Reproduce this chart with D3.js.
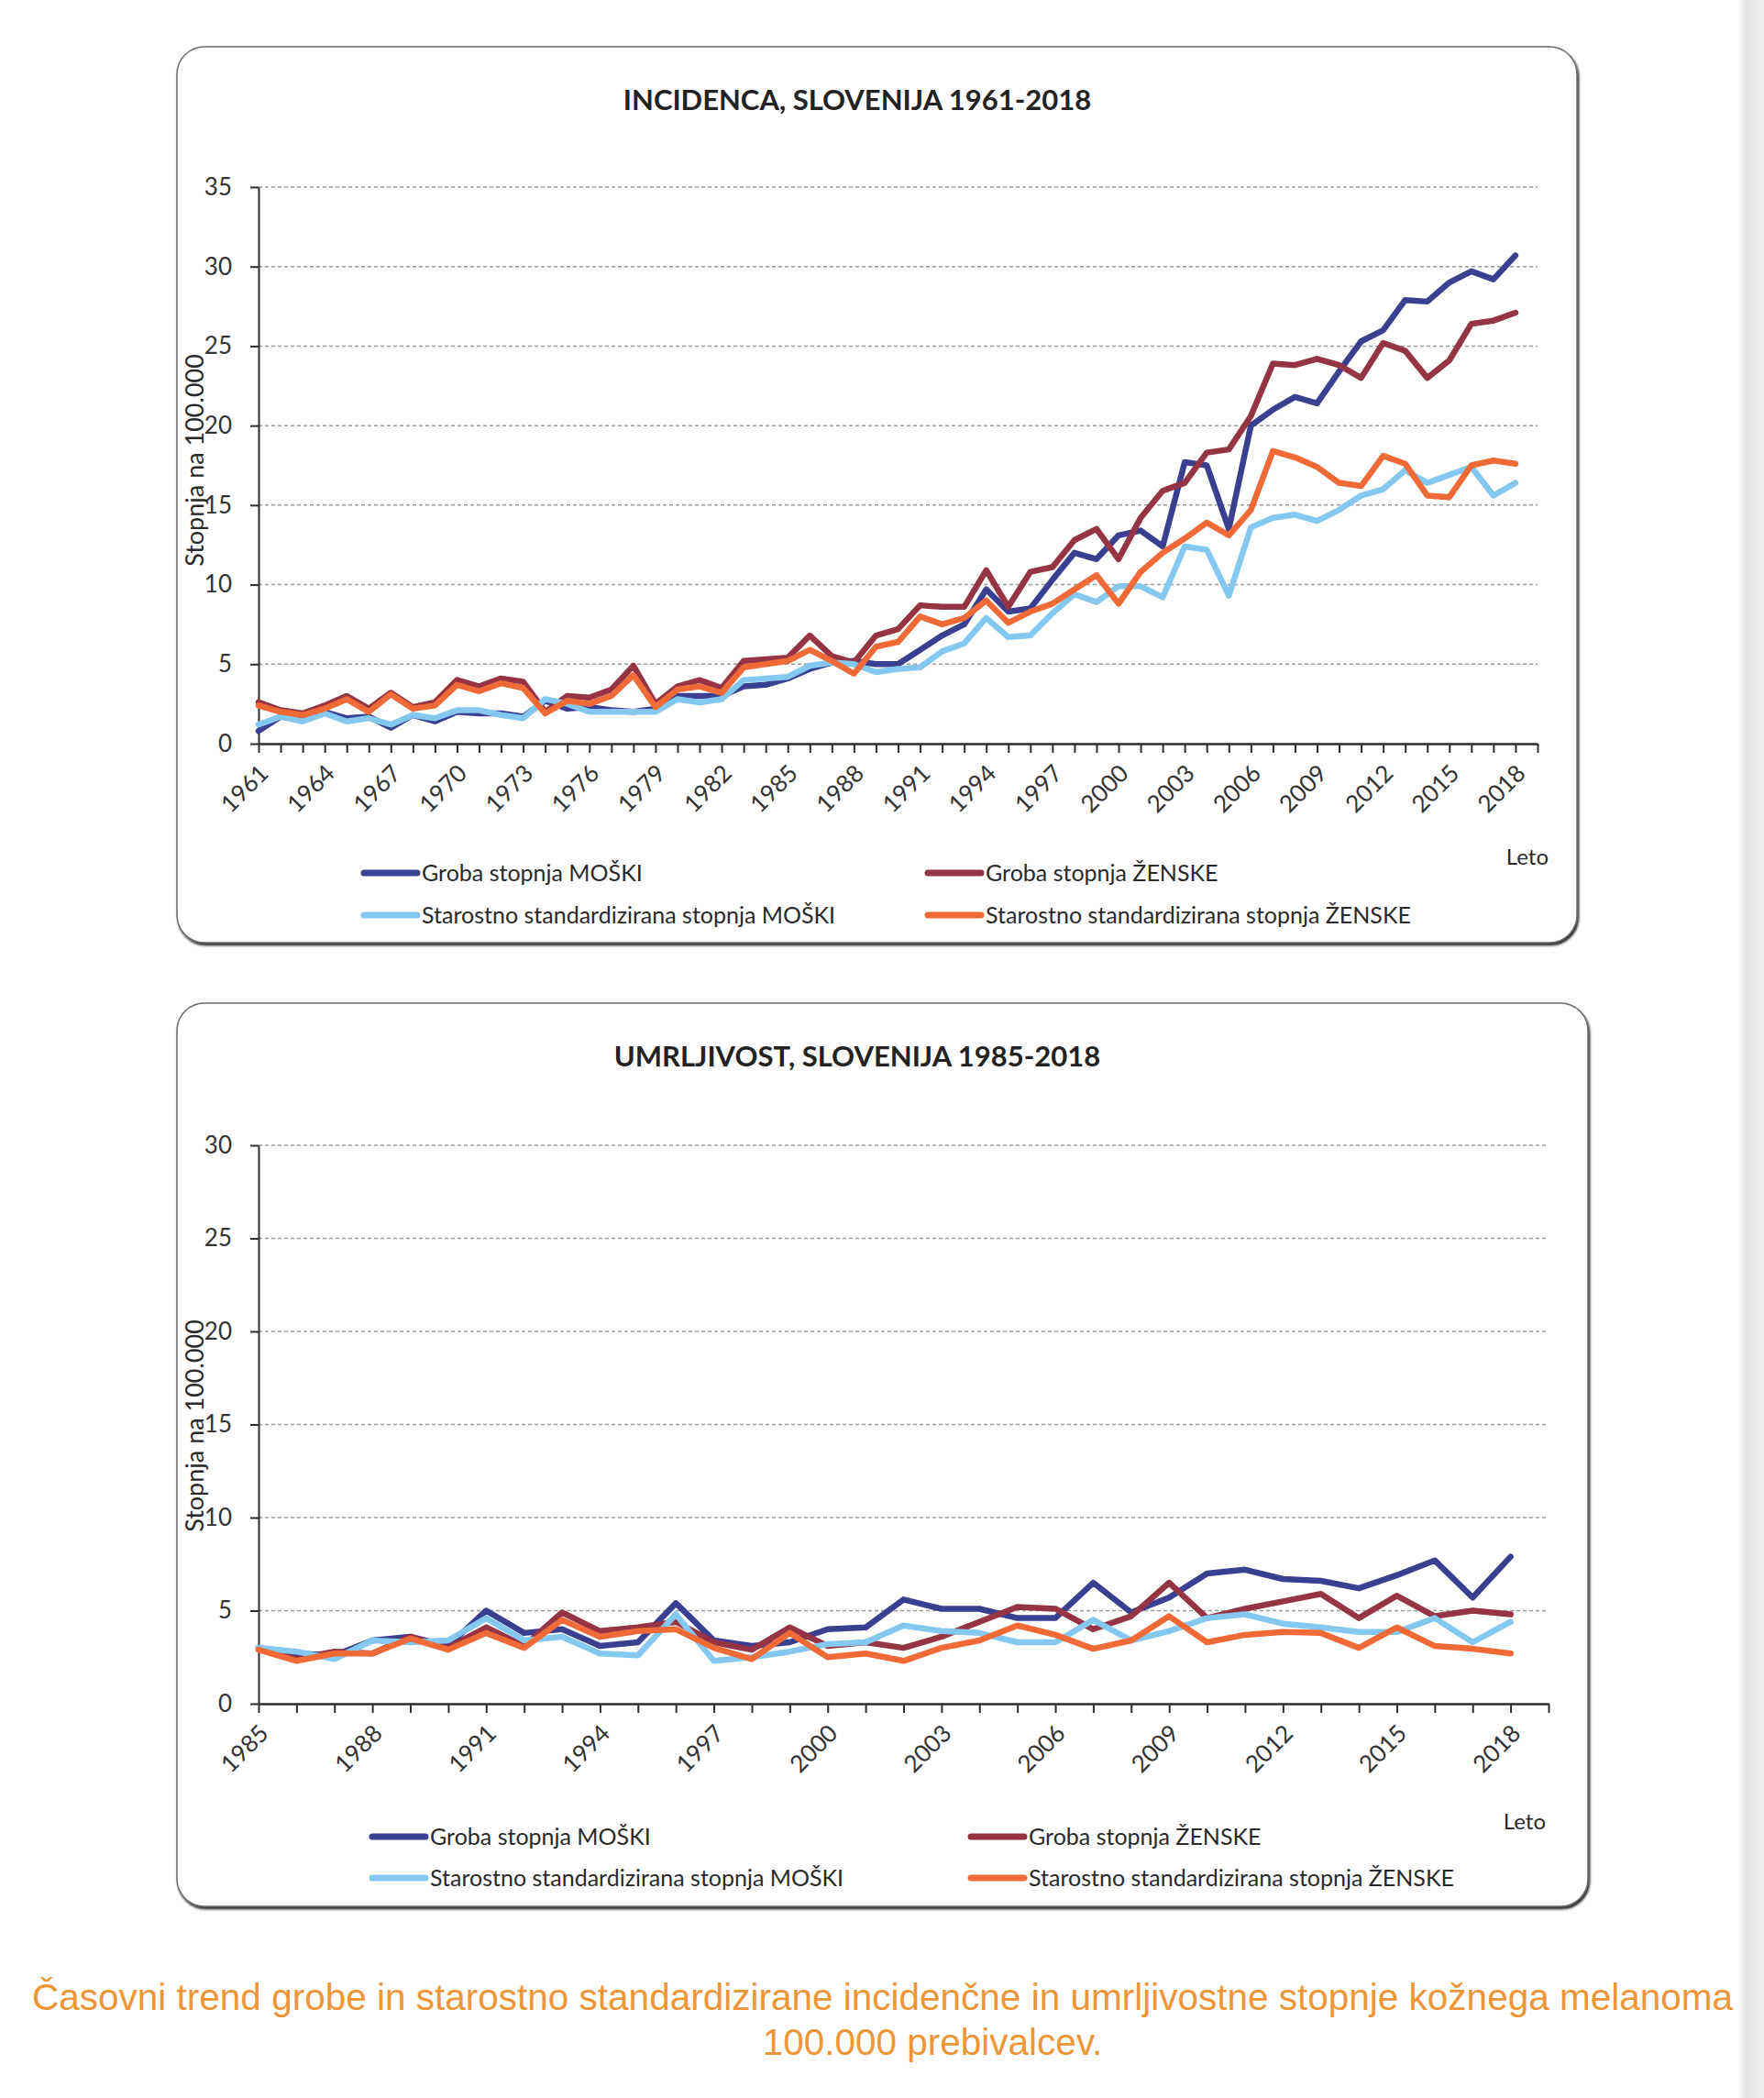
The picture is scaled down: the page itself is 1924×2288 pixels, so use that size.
<!DOCTYPE html>
<html>
<head>
<meta charset="utf-8">
<script src="https://cdn.jsdelivr.net/npm/d3@7"></script>
<style>
  body { margin: 0; background: #fff; }
  svg { display: block; }
</style>
</head>
<body>
<div id="vis"></div>
<script>

/* Incidence, 1961-2018 (rate per 100.000) */
var incYears = d3.range(1961, 2019);
var incXLabels = [1961, 1964, 1967, 1970, 1973, 1976, 1979, 1982, 1985, 1988, 1991,
                  1994, 1997, 2000, 2003, 2006, 2009, 2012, 2015, 2018];
var incYTicks = [0, 5, 10, 15, 20, 25, 30, 35];

var incMenCrude = [
  0.8, 1.7, 1.5, 2.0, 1.6, 1.7, 1.0, 1.8, 1.4, 2.0,
  1.9, 1.9, 1.7, 2.7, 2.2, 2.3, 2.1, 2.0, 2.2, 3.0,
  3.0, 3.0, 3.6, 3.7, 4.1, 4.7, 5.1, 5.2, 5.0, 5.0,
  5.9, 6.8, 7.5, 9.7, 8.3, 8.5, 10.3, 12.0, 11.6, 13.1,
  13.4, 12.4, 17.7, 17.5, 13.5, 20.0, 21.0, 21.8, 21.4, 23.4,
  25.3, 26.0, 27.9, 27.8, 29.0, 29.7, 29.2, 30.7
];
var incWomenCrude = [
  2.6, 2.1, 1.9, 2.4, 3.0, 2.2, 3.2, 2.3, 2.6, 4.0,
  3.6, 4.1, 3.9, 2.0, 3.0, 2.9, 3.4, 4.9, 2.5, 3.6,
  4.0, 3.5, 5.2, 5.3, 5.4, 6.8, 5.5, 5.1, 6.8, 7.2,
  8.7, 8.6, 8.6, 10.9, 8.6, 10.8, 11.1, 12.8, 13.5, 11.6,
  14.2, 15.9, 16.4, 18.3, 18.5, 20.6, 23.9, 23.8, 24.2, 23.8,
  23.0, 25.2, 24.7, 23.0, 24.1, 26.4, 26.6, 27.1
];
var incMenStd = [
  1.2, 1.7, 1.4, 1.9, 1.4, 1.6, 1.2, 1.8, 1.6, 2.1,
  2.1, 1.8, 1.6, 2.8, 2.5, 2.0, 2.0, 2.0, 2.0, 2.8,
  2.6, 2.8, 4.0, 4.1, 4.2, 4.9, 5.1, 5.0, 4.5, 4.7,
  4.8, 5.8, 6.3, 7.9, 6.7, 6.8, 8.2, 9.4, 8.9, 9.9,
  9.9, 9.2, 12.4, 12.2, 9.3, 13.6, 14.2, 14.4, 14.0, 14.7,
  15.6, 16.0, 17.2, 16.4, 16.9, 17.4, 15.6, 16.4
];
var incWomenStd = [
  2.4, 2.0, 1.8, 2.2, 2.8, 2.0, 3.1, 2.2, 2.4, 3.7,
  3.3, 3.8, 3.5, 1.9, 2.7, 2.5, 3.0, 4.3, 2.3, 3.4,
  3.6, 3.2, 4.8, 5.0, 5.2, 5.9, 5.2, 4.4, 6.1, 6.4,
  8.0, 7.5, 7.9, 9.0, 7.6, 8.3, 8.8, 9.7, 10.6, 8.8,
  10.8, 12.0, 12.9, 13.9, 13.1, 14.7, 18.4, 18.0, 17.4, 16.4,
  16.2, 18.1, 17.6, 15.6, 15.5, 17.5, 17.8, 17.6
];

/* Mortality, 1985-2018 (rate per 100.000) */
var mortYears = d3.range(1985, 2019);
var mortXLabels = [1985, 1988, 1991, 1994, 1997, 2000, 2003, 2006, 2009, 2012, 2015, 2018];
var mortYTicks = [0, 5, 10, 15, 20, 25, 30];

var mortMenCrude = [
  3.0, 2.7, 2.6, 3.4, 3.6, 3.1, 5.0, 3.8, 4.0, 3.1,
  3.3, 5.4, 3.4, 3.1, 3.3, 4.0, 4.1, 5.6, 5.1, 5.1,
  4.6, 4.6, 6.5, 4.9, 5.7, 7.0, 7.2, 6.7, 6.6, 6.2,
  6.9, 7.7, 5.7, 7.9
];
var mortWomenCrude = [
  3.0, 2.4, 2.8, 2.7, 3.6, 3.0, 4.1, 3.1, 4.9, 3.9,
  4.1, 4.4, 3.3, 2.9, 4.1, 3.1, 3.3, 3.0, 3.6, 4.4,
  5.2, 5.1, 4.0, 4.7, 6.5, 4.6, 5.1, 5.5, 5.9, 4.6,
  5.8, 4.7, 5.0, 4.8
];
var mortMenStd = [
  3.0, 2.8, 2.4, 3.4, 3.3, 3.4, 4.6, 3.4, 3.6, 2.7,
  2.6, 4.8, 2.3, 2.5, 2.8, 3.2, 3.3, 4.2, 3.9, 3.8,
  3.3, 3.3, 4.5, 3.4, 3.9, 4.6, 4.8, 4.3, 4.1, 3.85,
  3.85, 4.6, 3.3, 4.4
];
var mortWomenStd = [
  2.9, 2.3, 2.7, 2.7, 3.5, 2.9, 3.8, 3.0, 4.5, 3.6,
  3.9, 4.0, 3.0, 2.4, 3.8, 2.5, 2.7, 2.3, 3.0, 3.4,
  4.2, 3.7, 2.95, 3.4, 4.7, 3.3, 3.7, 3.85, 3.8, 3.0,
  4.1, 3.1, 2.95, 2.7
];

var seriesNames = ['Groba stopnja MOŠKI', 'Groba stopnja ŽENSKE',
                   'Starostno standardizirana stopnja MOŠKI', 'Starostno standardizirana stopnja ŽENSKE'];

var captionLines = ['Časovni trend grobe in starostno standardizirane incidenčne in umrljivostne stopnje kožnega melanoma',
                    '100.000 prebivalcev.'];

var prefs = {
  width: 1924,
  height: 2288,
  font: 'Lato, "Open Sans", sans-serif',
  colors: ['#3b3f8f', '#943444', '#84c8ef', '#ef6a37'],
  lineWidth: 6.5,
  axisColor: '#2e2e2e',
  gridColor: '#9c9c9c',
  textColor: '#2a2a2a',
  captionColor: '#ed9637'
};

var svg = d3.select('#vis').append('svg')
  .attr('width', prefs.width)
  .attr('height', prefs.height)
  .attr('font-family', prefs.font);

svg.append('rect')
  .attr('width', prefs.width)
  .attr('height', prefs.height)
  .attr('fill', '#fff');

var defs = svg.append('defs');
defs.append('filter')
  .attr('id', 'shadow')
  .attr('x', '-2%').attr('y', '-2%').attr('width', '104%').attr('height', '104%')
  .append('feDropShadow')
    .attr('dx', 1.5).attr('dy', 2.5)
    .attr('stdDeviation', 1)
    .attr('flood-color', '#000')
    .attr('flood-opacity', 0.85);

var edge = defs.append('linearGradient').attr('id', 'edge');
edge.append('stop').attr('offset', '0%').attr('stop-color', '#fff');
edge.append('stop').attr('offset', '25%').attr('stop-color', '#e6e6e6');
edge.append('stop').attr('offset', '100%').attr('stop-color', '#eeeeee');

function drawPanel(config) {
  var g = svg.append('g');

  /* Rounded frame */
  g.append('rect')
    .attr('x', config.box[0]).attr('y', config.box[1])
    .attr('width', config.box[2]).attr('height', config.box[3])
    .attr('rx', 30).attr('ry', 30)
    .attr('fill', '#fff')
    .attr('stroke', '#6a6a6a')
    .attr('stroke-width', 1.5)
    .attr('filter', 'url(#shadow)');

  g.append('text')
    .attr('x', config.title[0]).attr('y', config.title[1])
    .attr('text-anchor', 'middle')
    .attr('font-size', 31)
    .attr('font-weight', 'bold')
    .attr('fill', '#222')
    .text(config.titleText);

  var years = config.years,
      first = years[0],
      last = years[years.length - 1];

  var x = d3.scaleLinear()
    .domain([first, last + 1])
    .range([config.plot.left, config.plot.right]);

  var y = d3.scaleLinear()
    .domain([0, config.yTicks[config.yTicks.length - 1]])
    .range([config.plot.bottom, config.plot.top]);

  /* Dotted grid lines */
  g.append('g').selectAll('line')
    .data(config.yTicks.filter(function(d) { return d > 0; }))
    .join('line')
      .attr('x1', config.plot.left)
      .attr('x2', config.plot.right)
      .attr('y1', function(d) { return y(d); })
      .attr('y2', function(d) { return y(d); })
      .attr('stroke', prefs.gridColor)
      .attr('stroke-width', 1.5)
      .attr('stroke-dasharray', '4,3');

  /* Y axis */
  var yAxis = g.append('g')
    .attr('transform', 'translate(' + config.plot.left + ',0)')
    .call(d3.axisLeft(y).tickValues(config.yTicks).tickSize(9).tickSizeOuter(0).tickPadding(20));

  yAxis.select('.domain').attr('stroke', prefs.axisColor).attr('stroke-width', 2);
  yAxis.selectAll('.tick line').attr('stroke', prefs.axisColor).attr('stroke-width', 2);
  yAxis.selectAll('.tick text')
    .attr('font-size', 26)
    .attr('font-family', prefs.font)
    .attr('fill', '#333');

  /* X axis, a tick for every year, a label every third */
  var xAxis = g.append('g')
    .attr('transform', 'translate(0,' + config.plot.bottom + ')')
    .call(d3.axisBottom(x)
      .tickValues(d3.range(first, last + 2))
      .tickSize(10)
      .tickSizeOuter(0)
      .tickFormat(function(d) {
        return config.xLabels.indexOf(d) >= 0 ? d : '';
      }));

  xAxis.select('.domain').attr('stroke', prefs.axisColor).attr('stroke-width', 2.5);
  xAxis.selectAll('.tick line').attr('stroke', prefs.axisColor).attr('stroke-width', 2);
  xAxis.selectAll('.tick text')
    .attr('font-size', 26)
    .attr('font-family', prefs.font)
    .attr('fill', '#333')
    .attr('text-anchor', 'end')
    .attr('y', 0)
    .attr('dy', 0)
    .attr('transform', 'translate(12,34) rotate(-45)');

  g.append('text')
    .attr('x', config.leto[0]).attr('y', config.leto[1])
    .attr('text-anchor', 'end')
    .attr('font-size', 24)
    .attr('fill', prefs.textColor)
    .text('Leto');

  g.append('text')
    .attr('transform', 'translate(' + config.yLabel[0] + ',' + config.yLabel[1] + ') rotate(-90)')
    .attr('text-anchor', 'middle')
    .attr('dy', '0.35em')
    .attr('font-size', 27)
    .attr('fill', prefs.textColor)
    .text('Stopnja na 100.000');

  /* Series lines, drawn in legend order */
  var line = d3.line()
    .x(function(d, i) { return x(years[i]); })
    .y(function(d) { return y(d); })
    .curve(d3.curveLinear);

  g.append('g').selectAll('path')
    .data(config.series)
    .join('path')
      .attr('d', function(d) { return line(d); })
      .attr('fill', 'none')
      .attr('stroke', function(d, i) { return prefs.colors[i]; })
      .attr('stroke-width', prefs.lineWidth)
      .attr('stroke-linejoin', 'round')
      .attr('stroke-linecap', 'round');

  /* Legend, two columns by two rows */
  var legend = g.append('g').selectAll('g')
    .data(seriesNames)
    .join('g')
      .attr('transform', function(d, i) {
        var col = i % 2, row = Math.floor(i / 2);
        return 'translate(' + config.legendCols[col] + ',' + config.legendRows[row] + ')';
      });

  legend.append('line')
    .attr('x1', 0).attr('x2', config.swatch)
    .attr('stroke', function(d, i) { return prefs.colors[i]; })
    .attr('stroke-width', 7)
    .attr('stroke-linecap', 'round');

  legend.append('text')
    .attr('x', config.swatch + 5)
    .attr('dy', '0.35em')
    .attr('font-size', 25)
    .attr('fill', prefs.textColor)
    .text(function(d) { return d; });
}

drawPanel({
  box: [193, 51, 1527, 977],
  title: [935, 120],
  titleText: 'INCIDENCA, SLOVENIJA 1961-2018',
  plot: { left: 282, right: 1677, top: 204, bottom: 811 },
  years: incYears,
  xLabels: incXLabels,
  yTicks: incYTicks,
  series: [incMenCrude, incWomenCrude, incMenStd, incWomenStd],
  leto: [1689, 943],
  yLabel: [213, 502],
  legendCols: [397, 1012],
  legendRows: [952, 998],
  swatch: 58
});

drawPanel({
  box: [193, 1094, 1539, 985],
  title: [935, 1163],
  titleText: 'UMRLJIVOST, SLOVENIJA 1985-2018',
  plot: { left: 282, right: 1689, top: 1249, bottom: 1858 },
  years: mortYears,
  xLabels: mortXLabels,
  yTicks: mortYTicks,
  series: [mortMenCrude, mortWomenCrude, mortMenStd, mortWomenStd],
  leto: [1686, 1995],
  yLabel: [213, 1555],
  legendCols: [406, 1059],
  legendRows: [2003, 2048],
  swatch: 58
});

/* Caption under the figure */
svg.append('text')
  .attr('x', 35).attr('y', 2192)
  .attr('font-family', '"Liberation Sans", Arial, sans-serif')
  .attr('font-size', 40.5)
  .attr('fill', prefs.captionColor)
  .text(captionLines[0]);

svg.append('text')
  .attr('x', 1017).attr('y', 2241)
  .attr('text-anchor', 'middle')
  .attr('font-family', '"Liberation Sans", Arial, sans-serif')
  .attr('font-size', 40.5)
  .attr('fill', prefs.captionColor)
  .text(captionLines[1]);

/* Page edge shading on the right */
svg.append('rect')
  .attr('x', 1896).attr('y', 0)
  .attr('width', 28).attr('height', prefs.height)
  .attr('fill', 'url(#edge)');

</script>
</body>
</html>
